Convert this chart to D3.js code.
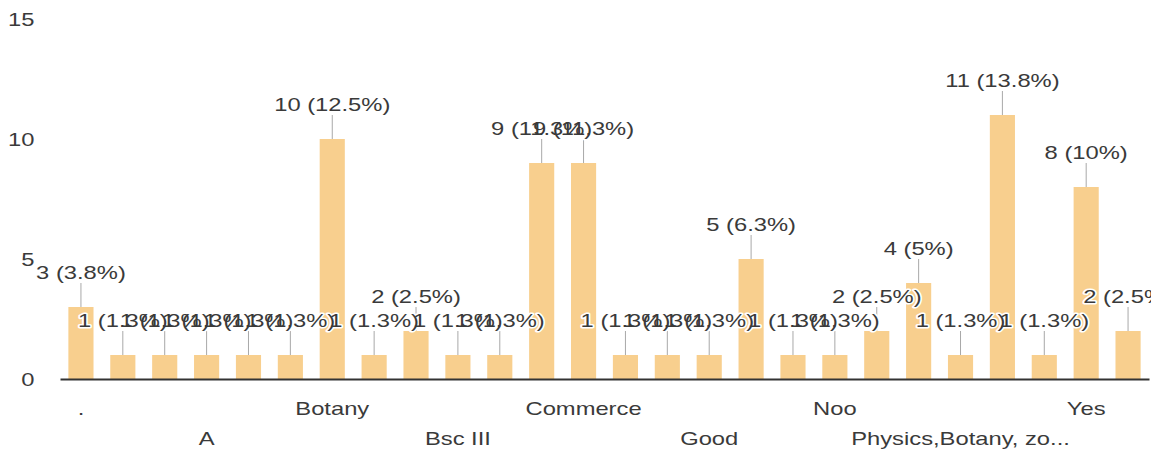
<!DOCTYPE html>
<html>
<head>
<meta charset="utf-8">
<script src="https://cdn.jsdelivr.net/npm/d3@7"></script>
<style>
  html, body { margin: 0; padding: 0; background: #ffffff; }
  svg { display: block; }
  text { font-family: "Liberation Sans", Arial, sans-serif; }
</style>
</head>
<body>
<svg id="chart" width="1161" height="456"></svg>
<script>
// ---- data ----
const categories = [".", "1st year", "2nd year", "A", "Arts", "B.Sc", "Botany", "Bsc", "Bsc II",
  "Bsc III", "Chemistry", "Civil", "Commerce", "Computer", "English", "Good", "Maths", "No",
  "Noo", "Physics", "Physics, Chemistry", "Physics,Botany, zo...", "Science", "Very good", "Yes", "Zoology"];
const counts = [3, 1, 1, 1, 1, 1, 10, 1, 2, 1, 1, 9, 9, 1, 1, 1, 5, 1, 1, 2, 4, 1, 11, 1, 8, 2];
const yTicks = [0, 5, 10, 15];
const shownLabelEvery = 3;

const total = d3.sum(counts);
const fmtPct = v => {
  const p = Math.round(v / total * 1000) / 10;
  return `${v} (${p}%)`;
};

// ---- layout ----
const W = 1161, H = 456;
const left = 60, right = 1149, baseY = 379, topY = 19;
const SX = 1.25;             // horizontal stretch of text, as in the reference
const fontSize = 19;
const textColor = "#3a3a3a";

const svg = d3.select("#chart");

svg.append("defs").append("clipPath").attr("id", "chartClip")
  .append("rect").attr("x", 0).attr("y", 0).attr("width", 1151).attr("height", H);

const x = d3.scaleBand().domain(categories).range([left, right]).paddingInner(0.4).paddingOuter(0.2);
const y = d3.scaleLinear().domain([0, 15]).range([baseY, topY]);
const cx = i => x(categories[i]) + x.bandwidth() / 2;

// bars
svg.append("g").selectAll("rect").data(counts).join("rect")
  .attr("x", (d, i) => x(categories[i]))
  .attr("width", x.bandwidth())
  .attr("y", d => y(d))
  .attr("height", d => y(0) - y(d))
  .attr("fill", "#f8cf8e");

// y axis
const yAxis = svg.append("g").attr("transform", `translate(${left},0)`)
  .call(d3.axisLeft(y).tickValues(yTicks).tickSize(0).tickPadding(20.5).tickFormat(d3.format("d")));
yAxis.select(".domain").remove();
yAxis.selectAll("text")
  .attr("font-size", fontSize)
  .attr("fill", textColor)
  .attr("font-family", "Liberation Sans, Arial, sans-serif")
  .attr("transform", `scale(${SX},1)`);

// x axis
const xAxis = svg.append("g").attr("transform", `translate(0,${baseY})`)
  .call(d3.axisBottom(x)
    .tickValues(categories.filter((c, i) => i % shownLabelEvery === 0))
    .tickSize(0).tickSizeOuter(0));
xAxis.select(".domain").attr("stroke", "#333").attr("stroke-width", 2);
xAxis.selectAll("text")
  .attr("font-size", fontSize)
  .attr("fill", textColor)
  .attr("font-family", "Liberation Sans, Arial, sans-serif")
  .attr("y", (d) => (categories.indexOf(d) / shownLabelEvery) % 2 === 0 ? 29 : 59)
  .attr("dy", "0.35em")
  .attr("transform", `scale(${SX},1)`);

// leader lines
svg.append("g").selectAll("line").data(counts).join("line")
  .attr("x1", (d, i) => cx(i))
  .attr("x2", (d, i) => cx(i))
  .attr("y1", d => y(d))
  .attr("y2", d => y(d) - 24)
  .attr("stroke", "#a8a8a8")
  .attr("stroke-width", 1);

// annotations: all white auras first, then all texts (texts overlap each other freely)
const ann = svg.append("g").attr("clip-path", "url(#chartClip)");
const annPos = (d, i) => `translate(${cx(i)},${y(d) - 28}) scale(${SX},1)`;
ann.append("g").selectAll("text").data(counts).join("text")
  .attr("transform", annPos)
  .attr("text-anchor", "middle")
  .attr("font-size", fontSize)
  .attr("fill", "#ffffff")
  .attr("stroke", "#ffffff")
  .attr("stroke-width", 3)
  .attr("stroke-linejoin", "round")
  .text(d => fmtPct(d));
ann.append("g").selectAll("text").data(counts).join("text")
  .attr("transform", annPos)
  .attr("text-anchor", "middle")
  .attr("font-size", fontSize)
  .attr("fill", textColor)
  .text(d => fmtPct(d));
</script>
</body>
</html>
